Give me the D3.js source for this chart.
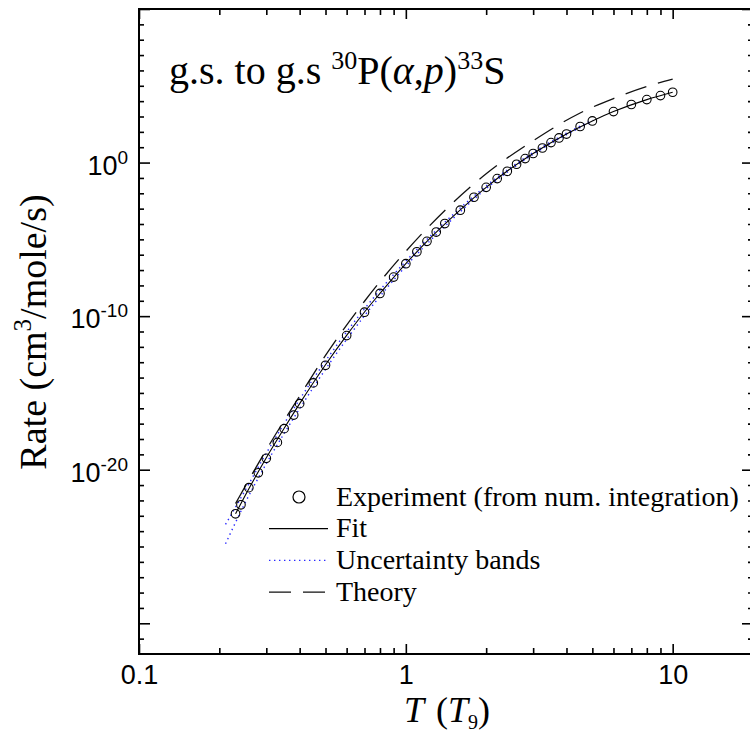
<!DOCTYPE html>
<html>
<head>
<meta charset="utf-8">
<script src="https://cdn.jsdelivr.net/npm/d3@7"></script>
<style>
  html, body { margin: 0; padding: 0; background: #fff; }
  svg { display: block; }
  .serif { font-family: "Liberation Serif", "Times New Roman", serif; }
  .sans { font-family: "Liberation Sans", Arial, sans-serif; }
</style>
</head>
<body>
<svg id="chart" width="750" height="733"></svg>
<script>
// ---- data: rate of 30P(a,p)33S, ground state to ground state ----
// experiment (numerical integration)
const expT = [0.23, 0.241, 0.258, 0.28, 0.30, 0.33, 0.35, 0.38, 0.40, 0.45, 0.50, 0.60, 0.70, 0.80, 0.90,
              1.0, 1.1, 1.2, 1.3, 1.4, 1.6, 1.8, 2.0, 2.2, 2.4, 2.6, 2.8, 3.0, 3.25, 3.5, 3.75, 4.0,
              4.5, 5.0, 6.0, 7.0, 8.0, 9.0, 10.0];
const expRate = [1.35e-23, 5.2e-23, 6.8e-22, 6.3e-21, 5.5e-20, 6.0e-19, 4.7e-18, 3.6e-17, 2.0e-16, 4.5e-15,
                 6.3e-14, 5.4e-12, 1.8e-10, 3.0e-9, 3.5e-8,
                 2.6e-7, 1.55e-6, 7.4e-6, 3.0e-5, 1.07e-4, 7.9e-4, 5.5e-3, 2.45e-2, 9.1e-2, 0.27, 0.78, 1.82,
                 3.9, 8.9, 20, 40, 72, 224, 513, 2090, 6030, 12600, 22900, 38000];

// analytic fit
const fitT = [0.23, 0.25, 0.3, 0.35, 0.4, 0.5, 0.6, 0.7, 0.8, 1.0, 1.2, 1.5, 2.0, 2.5, 3.0, 4.0, 5.0, 6.0, 8.0, 10.0];
const fitRate = [1.35e-23, 2.1e-22, 6.0e-20, 5.0e-18, 2.0e-16, 6.8e-14, 5.6e-12, 1.86e-10, 3.0e-9, 2.6e-7,
                 7.4e-6, 3.0e-4, 2.45e-2, 0.47, 3.9, 72, 513, 2090, 12600, 38000];

// uncertainty bands
const bandT = [0.211, 0.25, 0.3, 0.4, 0.5, 0.7, 1.0, 1.5, 2.0, 3.0, 4.0, 5.0];
const bandUpper = [2.75e-24, 4.5e-22, 1.2e-19, 3.8e-16, 1.2e-13, 3.0e-10, 3.8e-7, 4.0e-4, 3.0e-2, 4.57, 83, 575];
const bandLower = [1.5e-25, 7.1e-23, 2.5e-20, 9.5e-17, 3.5e-14, 1.07e-10, 1.8e-7, 2.2e-4, 2.0e-2, 3.4, 65, 468];

// theory
const theoryT = [0.23, 0.3, 0.4, 0.5, 0.7, 1.0, 1.5, 2.0, 3.0, 4.5, 6.0, 8.0, 10.0];
const theoryRate = [6.3e-23, 2.0e-19, 6.3e-16, 2.8e-13, 9.3e-10, 1.66e-6, 2.4e-3, 0.186, 26.3, 1700, 14800, 89000, 269000];

// axis ticks
const xMajor = [0.1, 1, 10];
const xMinor = [0.2, 0.3, 0.4, 0.5, 0.6, 0.7, 0.8, 0.9, 2, 3, 4, 5, 6, 7, 8, 9, 20];
const xLabels = ["0.1", "1", "10"];
const yMajorExp = [-30, -20, -10, 0, 10];
const yLabelExp = [0, -10, -20];
const legendItems = ["Experiment (from num. integration)", "Fit", "Uncertainty bands", "Theory"];

// ---- drawing ----
const svg = d3.select("#chart");
const frameL = 139, frameR = 753, frameT = 9, frameB = 654;
const x = d3.scaleLog().domain([0.1, 20]).range([frameL, frameR]);
const y = d3.scaleLog().domain([1e-32, 1e10]).range([frameB, frameT]);

const yMajor = yMajorExp.map(e => Math.pow(10, e));
const yMinor = d3.range(-31, 10).filter(e => e % 10 !== 0).map(e => Math.pow(10, e));

const line = d3.line().x(d => x(d[0])).y(d => y(d[1])).curve(d3.curveMonotoneX);
const pairs = (a, b) => a.map((v, i) => [v, b[i]]);

const plot = svg.append("g");

// uncertainty bands (blue dotted)
[bandUpper, bandLower].forEach(b => {
  plot.append("path")
    .attr("d", line(pairs(bandT, b)))
    .attr("fill", "none")
    .attr("stroke", "#2a2aff")
    .attr("stroke-width", 1.4)
    .attr("stroke-dasharray", "1.4,3.6");
});

// theory (long dashes)
plot.append("path")
  .attr("d", line(pairs(theoryT, theoryRate)))
  .attr("fill", "none")
  .attr("stroke", "#111")
  .attr("stroke-width", 1.3)
  .attr("stroke-dasharray", "22,12");

// fit (solid)
plot.append("path")
  .attr("d", line(pairs(fitT, fitRate)))
  .attr("fill", "none")
  .attr("stroke", "#000")
  .attr("stroke-width", 1.1);

// experiment points
plot.selectAll("circle.exp")
  .data(pairs(expT, expRate))
  .join("circle")
  .attr("class", "exp")
  .attr("cx", d => x(d[0]))
  .attr("cy", d => y(d[1]))
  .attr("r", 4.3)
  .attr("fill", "none")
  .attr("stroke", "#000")
  .attr("stroke-width", 1.1);

// axes: inward ticks on all four sides
function styleAxis(g) {
  g.select(".domain").remove();
  g.selectAll(".tick line").attr("stroke", "#000").attr("stroke-width", 1.6);
}
const noLabel = () => "";

svg.append("g").attr("transform", `translate(0,${frameB})`)
  .call(d3.axisBottom(x).tickValues(xMajor).tickSize(-10).tickPadding(11)
    .tickFormat((d, i) => xLabels[i]))
  .call(styleAxis)
  .call(g => g.selectAll("text").attr("class", "sans").attr("font-size", 27).attr("fill", "#000")
    .attr("dy", "0.71em"));
svg.append("g").attr("transform", `translate(0,${frameB})`)
  .call(d3.axisBottom(x).tickValues(xMinor).tickSize(-6).tickFormat(noLabel)).call(styleAxis);
svg.append("g").attr("transform", `translate(0,${frameT})`)
  .call(d3.axisTop(x).tickValues(xMajor).tickSize(-10).tickFormat(noLabel)).call(styleAxis);
svg.append("g").attr("transform", `translate(0,${frameT})`)
  .call(d3.axisTop(x).tickValues(xMinor).tickSize(-6).tickFormat(noLabel)).call(styleAxis);

svg.append("g").attr("transform", `translate(${frameL},0)`)
  .call(d3.axisLeft(y).tickValues(yMajor).tickSize(-11).tickFormat(noLabel)).call(styleAxis);
svg.append("g").attr("transform", `translate(${frameL},0)`)
  .call(d3.axisLeft(y).tickValues(yMinor).tickSize(-5).tickFormat(noLabel)).call(styleAxis);
svg.append("g").attr("transform", `translate(${frameR},0)`)
  .call(d3.axisRight(y).tickValues(yMajor).tickSize(-11).tickFormat(noLabel)).call(styleAxis);
svg.append("g").attr("transform", `translate(${frameR},0)`)
  .call(d3.axisRight(y).tickValues(yMinor).tickSize(-5).tickFormat(noLabel)).call(styleAxis);

// frame
svg.append("rect")
  .attr("x", frameL).attr("y", frameT).attr("width", frameR - frameL).attr("height", frameB - frameT)
  .attr("fill", "none").attr("stroke", "#000").attr("stroke-width", 2);

// y tick labels with superscript exponents
const yl = svg.append("g").attr("class", "sans").attr("fill", "#000");
yLabelExp.forEach(e => {
  const t = yl.append("text")
    .attr("x", 128).attr("y", y(Math.pow(10, e)) + 12)
    .attr("text-anchor", "end").attr("font-size", 27);
  t.append("tspan").text("10");
  t.append("tspan").attr("font-size", 19).attr("dy", -11).text(e === 0 ? "0" : "-" + Math.abs(e));
});

// chart title
const title = svg.append("text").attr("class", "serif")
  .attr("x", 169).attr("y", 84).attr("font-size", 40).attr("fill", "#000");
title.append("tspan").text("g.s. to g.s ");
title.append("tspan").attr("font-size", 26).attr("dy", -15).text("30");
title.append("tspan").attr("dy", 15).text("P(");
title.append("tspan").attr("font-style", "italic").text("α");
title.append("tspan").text(",");
title.append("tspan").attr("font-style", "italic").text("p");
title.append("tspan").text(")");
title.append("tspan").attr("font-size", 26).attr("dy", -15).text("33");
title.append("tspan").attr("dy", 15).text("S");

// axis titles
const xt = svg.append("text").attr("class", "serif")
  .attr("x", 447).attr("y", 722).attr("text-anchor", "middle").attr("font-size", 36).attr("fill", "#000");
xt.append("tspan").attr("font-style", "italic").text("T");
xt.append("tspan").attr("dx", 12).text("(");
xt.append("tspan").attr("font-style", "italic").text("T");
xt.append("tspan").attr("font-size", 20).attr("dy", 7).text("9");
xt.append("tspan").attr("dy", -7).text(")");

const ytl = svg.append("text").attr("class", "serif")
  .attr("transform", "translate(46,332) rotate(-90)")
  .attr("text-anchor", "middle").attr("font-size", 38).attr("fill", "#000");
ytl.append("tspan").text("Rate (cm");
ytl.append("tspan").attr("font-size", 25).attr("dy", -15).text("3");
ytl.append("tspan").attr("dy", 15).text("/mole/s)");

// legend
const lg = svg.append("g");
const rowY = i => 497 + i * 31.7;
lg.append("circle").attr("cx", 299).attr("cy", rowY(0)).attr("r", 6)
  .attr("fill", "none").attr("stroke", "#000").attr("stroke-width", 1.2);
lg.append("line").attr("x1", 269).attr("x2", 328).attr("y1", rowY(1)).attr("y2", rowY(1))
  .attr("stroke", "#000").attr("stroke-width", 1.2);
lg.append("line").attr("x1", 269).attr("x2", 328).attr("y1", rowY(2)).attr("y2", rowY(2))
  .attr("stroke", "#2a2aff").attr("stroke-width", 1.4).attr("stroke-dasharray", "1.4,3.6");
lg.append("line").attr("x1", 269).attr("x2", 328).attr("y1", rowY(3)).attr("y2", rowY(3))
  .attr("stroke", "#111").attr("stroke-width", 1.3).attr("stroke-dasharray", "22,12");
legendItems.forEach((s, i) => {
  lg.append("text").attr("class", "serif")
    .attr("x", 336).attr("y", rowY(i) + 8.5)
    .attr("font-size", 28).attr("fill", "#000").text(s);
});
</script>
</body>
</html>
